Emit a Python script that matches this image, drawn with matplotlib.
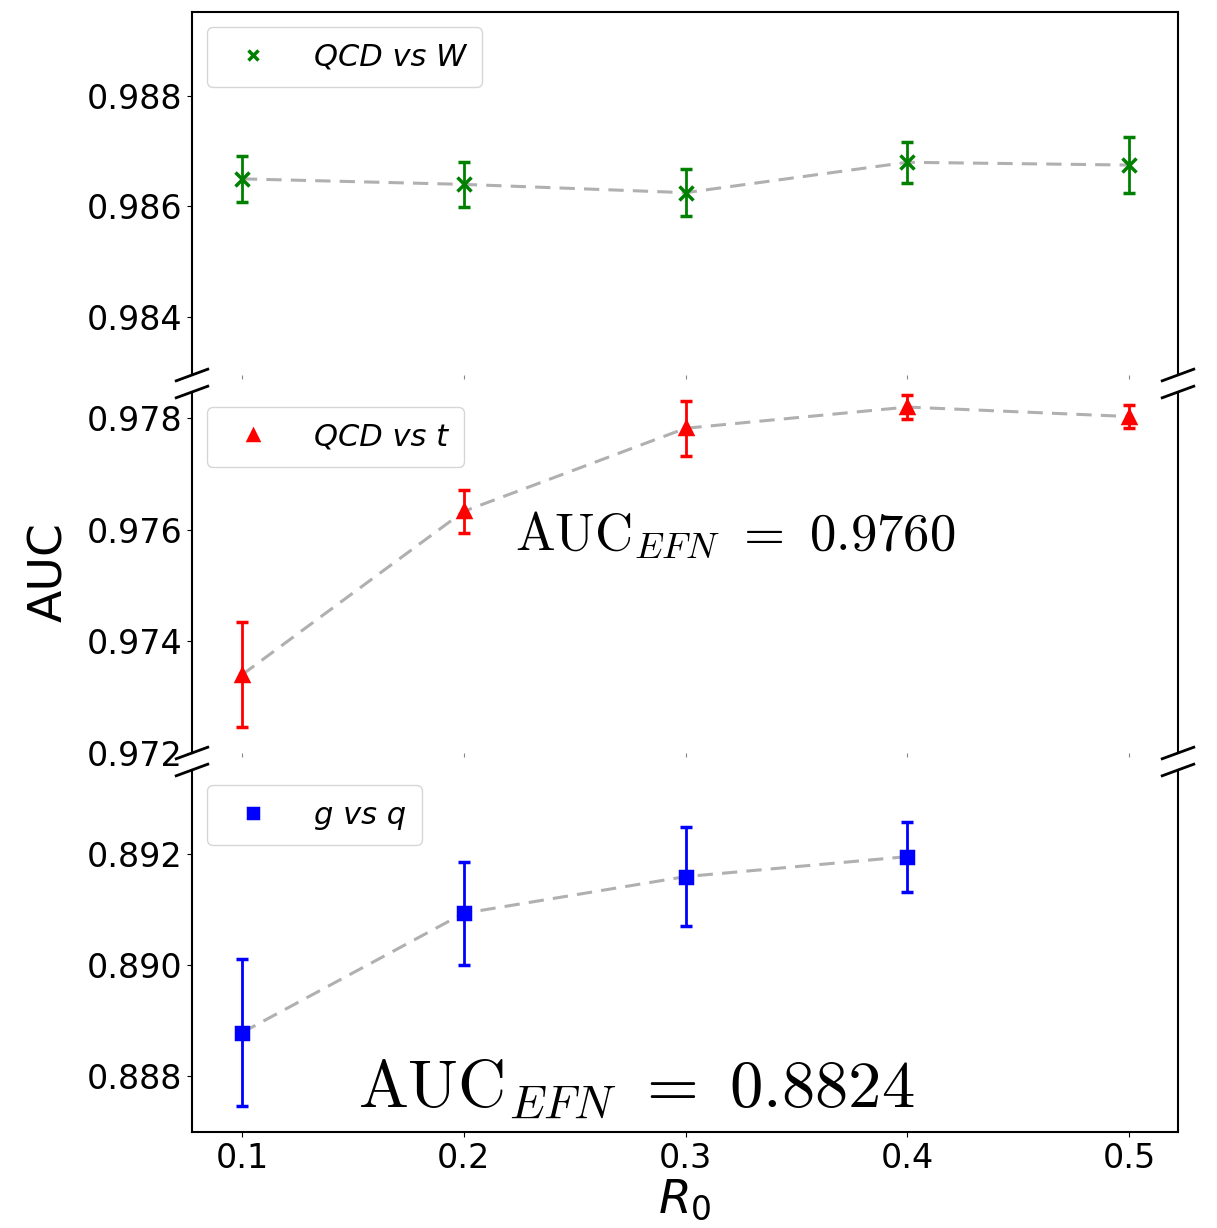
import matplotlib
matplotlib.use('Agg')
import matplotlib.pyplot as plt
from matplotlib.lines import Line2D
from matplotlib.ticker import MultipleLocator, FormatStrFormatter

# AUC vs R0 for the three tagging problems
r0 = [0.1, 0.2, 0.3, 0.4, 0.5]
auc_w = [0.98650, 0.98640, 0.98625, 0.98680, 0.98675]
err_w = [0.00042, 0.00041, 0.00042, 0.00037, 0.00051]

auc_t = [0.97340, 0.97633, 0.97782, 0.97820, 0.97803]
err_t = [0.00094, 0.00038, 0.00049, 0.00022, 0.00020]

r0_gq = [0.1, 0.2, 0.3, 0.4]
auc_gq = [0.88878, 0.89093, 0.89159, 0.89195]
err_gq = [0.00132, 0.00093, 0.00089, 0.00063]

labels = ['QCD vs W', 'QCD vs t', 'g vs q']
efn_text = [r'$\mathrm{AUC}_{EFN}\ =\ 0.9760$', r'$\mathrm{AUC}_{EFN}\ =\ 0.8824$']

W, H = 1217, 1228
fig = plt.figure(figsize=(W / 100, H / 100), dpi=100)
left, width = 192 / W, 986 / W


def _axes(top_px, bot_px):
    return fig.add_axes([left, 1 - bot_px / H, width, (bot_px - top_px) / H])


ax_top = _axes(12, 375)
ax_mid = _axes(392, 753)
ax_bot = _axes(770, 1132)


def _panel(ax, x, y, e, marker, color, ms, label, ylim):
    ax.plot(x, y, color='#b0b0b0', lw=2.2, dashes=(5, 3), zorder=1)
    ax.errorbar(x, y, yerr=e, fmt=marker, color=color, ms=ms, mew=2.5,
                elinewidth=2, capsize=4, capthick=2, zorder=2)
    h = Line2D([], [], marker=marker, ls='none', color=color, ms=7, mew=2.5)
    ax.legend([h], [label], loc='upper left', borderpad=0.5,
              handletextpad=1.0, prop={'style': 'italic', 'size': 22})
    ax.set_xlim(0.0775, 0.522)
    ax.set_ylim(*ylim)
    ax.yaxis.set_major_locator(MultipleLocator(0.002))
    ax.yaxis.set_major_formatter(FormatStrFormatter('%.3f'))
    ax.tick_params(labelsize=24)
    for s in ax.spines.values():
        s.set_linewidth(1.5)


_panel(ax_top, r0, auc_w, err_w, 'x', 'green', 10, labels[0], (0.98295, 0.98952))
_panel(ax_mid, r0, auc_t, err_t, '^', 'red', 9, labels[1], (0.97200, 0.97847))
_panel(ax_bot, r0_gq, auc_gq, err_gq, 's', 'blue', 9, labels[2], (0.88699, 0.89351))

# broken-axis look: hide inner spines, drop inner x labels
ax_top.spines['bottom'].set_visible(False)
ax_mid.spines['top'].set_visible(False)
ax_mid.spines['bottom'].set_visible(False)
ax_bot.spines['top'].set_visible(False)
for ax in (ax_top, ax_mid):
    ax.set_xticks(r0)
    ax.tick_params(axis='x', labelbottom=False, length=3, color='#888888')
ax_bot.set_xticks(r0)

d = 0.016
kw = dict(color='k', clip_on=False, lw=2)
for ax in (ax_top, ax_mid):
    ax.plot((-d, d), (-d, d), transform=ax.transAxes, **kw)
    ax.plot((1 - d, 1 + d), (-d, d), transform=ax.transAxes, **kw)
for ax in (ax_mid, ax_bot):
    ax.plot((-d, d), (1 - d, 1 + d), transform=ax.transAxes, **kw)
    ax.plot((1 - d, 1 + d), (1 - d, 1 + d), transform=ax.transAxes, **kw)

ax_mid.text(0.2231, 0.97564, efn_text[0], fontsize=38, math_fontfamily='cm',
            ha='left', va='baseline')
ax_bot.text(0.1523, 0.88744, efn_text[1], fontsize=48, math_fontfamily='cm',
            ha='left', va='baseline')

ax_bot.set_xlabel(r'$R_0$', fontsize=34, labelpad=2)
fig.text(50 / W, 1 - 572 / H, 'AUC', rotation=90, fontsize=34,
         ha='center', va='center')

fig.savefig('out.png', dpi=100)
